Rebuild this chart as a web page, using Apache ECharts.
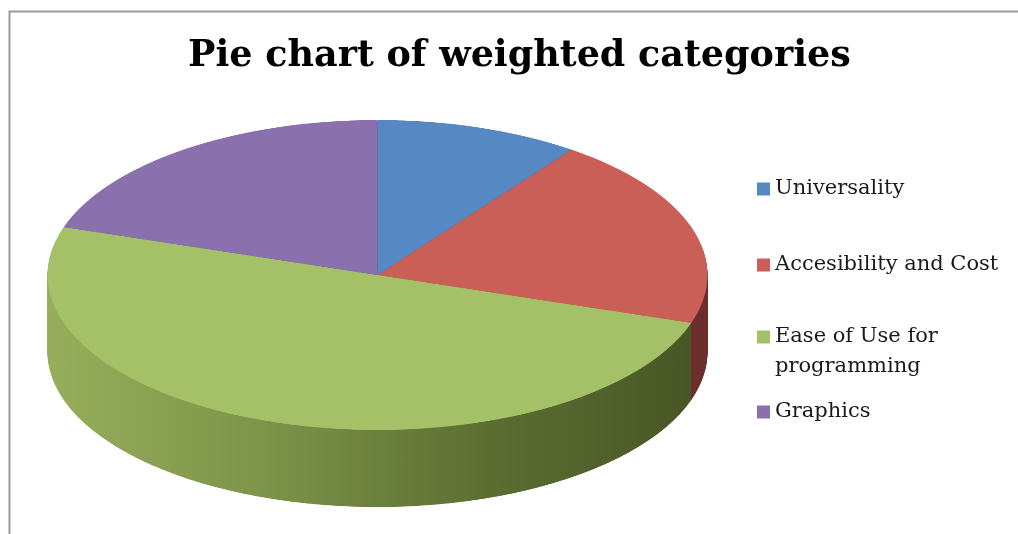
<!DOCTYPE html>
<html>
<head>
<meta charset="utf-8">
<script src="https://cdn.jsdelivr.net/npm/echarts@6/dist/echarts.min.js"></script>
<style>
  html, body { margin: 0; padding: 0; width: 1018px; height: 534px; overflow: hidden; background: #ffffff; }
  #pie { position: absolute; left: 0; top: 0; width: 1018px; height: 1100px; transform-origin: 0 0; }
  #fg { position: absolute; left: 0; top: 0; width: 1018px; height: 534px; }
</style>
</head>
<body>
<div id="pie"></div>
<div id="fg"></div>
<script>
// ---- data ----
const categories = ['Universality', 'Accesibility and Cost', 'Ease of Use for programming', 'Graphics'];
const weights = [10, 20, 50, 20];
const titleText = 'Pie chart of weighted categories';

// ---- styles ----
const topColors = ['#5689c4', '#c95f57', '#a5c167', '#8a70ac'];
const sideStops = [
  ['#4a77ab', '#3a5f8a', '#2c4868'],
  ['#b05550', '#8c3f3b', '#6a2e2b'],
  ['#97af5c', '#7d9349', '#5c6e32', '#475525'],
  ['#77609a', '#5e4b7a', '#46385b']
];

// pie geometry (screen px)
const SCALE_Y = 155 / 330;
const R = 330;
const CX = 377.5;
const CY = 275 / SCALE_Y;
const DEPTH = 77 / SCALE_Y;
const STEP = 2;

document.getElementById('pie').style.transform = 'scaleY(' + SCALE_Y + ')';

function sideColor(i) {
  const stops = sideStops[i];
  return {
    type: 'linear', x: CX - R, y: 0, x2: CX + R, y2: 0, global: true,
    colorStops: stops.map((c, j) => ({ offset: j / (stops.length - 1), color: c }))
  };
}

const layers = [];
const n = Math.ceil(DEPTH / STEP);
for (let k = n; k >= 0; k--) {
  layers.push({
    type: 'pie',
    silent: true,
    animation: false,
    startAngle: 90,
    clockwise: true,
    center: [CX, CY + k * DEPTH / n],
    radius: R,
    label: { show: false },
    labelLine: { show: false },
    emphasis: { disabled: true },
    itemStyle: { borderWidth: 0 },
    data: categories.map((c, i) => ({
      name: c,
      value: weights[i],
      itemStyle: { color: k === 0 ? topColors[i] : sideColor(i) }
    }))
  });
}

const pieChart = echarts.init(document.getElementById('pie'), null, { renderer: 'canvas' });
pieChart.setOption({ animation: false, series: layers });

// ---- foreground: title, legend, frame ----
const legendFont = { fontFamily: 'DejaVu Serif', fontSize: 21, color: '#1a1a1a', lineHeight: 30 };
const legendTops = [174, 250, 292, 397];
const legends = categories.map((c, i) => {
  const lg = {
    data: [c],
    orient: 'vertical',
    left: 757,
    top: legendTops[i],
    padding: 0,
    icon: 'rect',
    itemWidth: 13,
    itemHeight: 13,
    itemGap: 0,
    selectedMode: false,
    textStyle: Object.assign({}, legendFont)
  };
  if (i === 2) {
    lg.textStyle.width = 180;
    lg.textStyle.overflow = 'break';
    lg.formatter = name => '\n' + name;
  }
  return lg;
});

const fg = echarts.init(document.getElementById('fg'), null, { renderer: 'canvas' });
fg.setOption({
  animation: false,
  title: {
    text: titleText,
    left: 188,
    top: 38,
    padding: 0,
    textStyle: { fontFamily: 'DejaVu Serif', fontWeight: 'bold', fontSize: 36.5, color: '#000000' }
  },
  legend: legends,
  graphic: [{
    type: 'polyline',
    silent: true,
    shape: { points: [[9.5, 534], [9.5, 11.5], [1018, 11.5]] },
    style: { stroke: '#9a9a9a', lineWidth: 2, fill: null }
  }],
  series: [{
    type: 'pie',
    silent: true,
    center: [CX, 275],
    radius: 0,
    label: { show: false },
    labelLine: { show: false },
    data: categories.map((c, i) => ({ name: c, value: weights[i], itemStyle: { color: topColors[i] } }))
  }]
});
</script>
</body>
</html>
